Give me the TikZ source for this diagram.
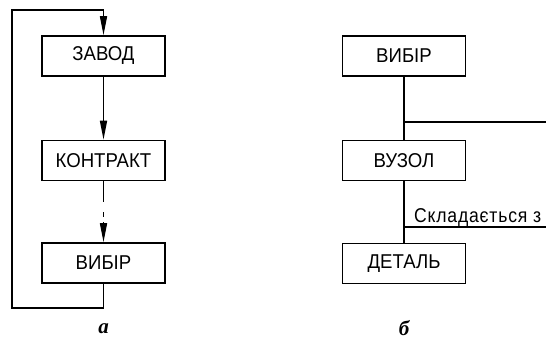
\documentclass[tikz,border=0pt]{standalone}
\usepackage{fontspec}
\setmainfont{Liberation Sans}[FakeStretch=0.93]
\newfontfamily\capfont{Liberation Serif}
\newfontfamily\notefont{Liberation Sans}[FakeStretch=0.88,LetterSpace=4]
\usetikzlibrary{arrows.meta,calc}
\tikzset{
  unit/.style={draw, line width=1.6pt, minimum width=123pt, minimum height=40pt,
    inner sep=0pt, font=\fontsize{20}{20}\selectfont},
  link/.style={line width=1.6pt},
  tip/.style={-{Triangle[length=19pt,width=7pt]}},
  caption/.style={inner sep=0pt, font=\capfont\bfseries\itshape\fontsize{21}{21}\selectfont}
}
\begin{document}
\begin{tikzpicture}[x=1pt,y=-1pt]
\useasboundingbox (0,0) rectangle (546,341);
% left scheme: a cycle of three units
\node[unit] (zavod) at (103.5,56) {ЗАВОД};
\node[unit] (kontrakt) at (103.5,160.5) {КОНТРАКТ};
\node[unit] (vybirA) at (103.5,263) {ВИБІР};
\draw[link,tip] (zavod.south) -- (kontrakt.north);
\draw[link] (kontrakt.south) -- ++(0,21);
\draw[link] (103.5,212) -- (103.5,217);
\draw[link,tip] ($(vybirA.north)+(0,-20)$) -- (vybirA.north);
\draw[link,tip] (vybirA.south) -- (103.5,308) -- (12,308) -- (12,10) -- (103.5,10) -- (zavod.north);
\node[caption] (capA) at (103.5,329) {а};
% right scheme: a hierarchy of units
\node[unit] (vybirB) at (404,56) {ВИБІР};
\node[unit] (vuzol) at (404,160.5) {ВУЗОЛ};
\node[unit] (detal) at (404,263.5) {ДЕТАЛЬ};
\draw[link] (vybirB.south) -- (vuzol.north);
\draw[link] (vuzol.south) -- (detal.north);
\coordinate (branchA) at (404,122);
\coordinate (endA) at (546,122);
\coordinate (branchB) at (404,227);
\coordinate (endB) at (546,227);
\draw[link] (branchA) -- (endA);
\draw[link] (branchB) -- (endB);
\begin{scope}
\clip (0,0) rectangle (546,341);
\node[anchor=base west, inner sep=0pt, font=\notefont\fontsize{20}{20}\selectfont] (note) at (414,222) {Складається з};
\end{scope}
\node[caption] (capB) at (404,328) {б};
\end{tikzpicture}
\end{document}
